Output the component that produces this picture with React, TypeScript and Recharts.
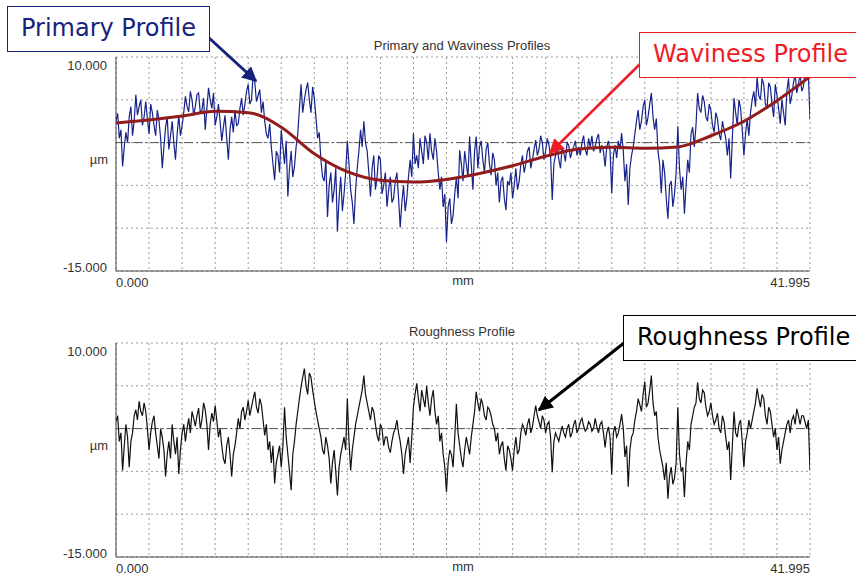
import type { ReactNode } from 'react'
import { LineChart, Line, XAxis, YAxis, CartesianGrid, ReferenceLine } from 'recharts'

// Trace length and grid
const SPAN_MM = 41.995
const X_TICKS = [0, 2, 4, 6, 8, 10, 12, 14, 16, 18, 20, 22, 24, 26, 28, 30, 32, 34, 36, 38, 40, 41.995]
const Y_TICKS = [-15, -10, -5, 0, 5, 10]

// Primary profile, evenly sampled along the trace (µm), one row per 2 mm
const primaryUm = [
  2.5, 3.4, 0.5, 1.5, -2.8, -0.5, 1.2, 0.0, 3.0, 4.2, 0.8, 2.5, 5.6, 3.2, 4.2, 5.0, 2.0, 3.0, 4.8, 2.8,
  1.0, 4.5, 3.5, 2.0, 0.8, 3.8, 2.6, 0.5, -3.0, -0.5, 1.8, 3.0, -0.8, 0.8, 2.5, 0.0, -2.0, 1.0, 3.2, 0.8,
  2.0, 3.5, 5.4, 4.2, 3.6, 6.0, 5.0, 3.2, 4.2, 5.6, 5.8, 3.5, 3.8, 5.2, 1.5, 4.0, 6.4, 5.0, 4.0, 5.8,
  2.0, 3.0, 4.5, 2.5, 0.2, 1.8, 3.2, 0.5, -2.0, 1.5, 3.0, 1.2, 3.8, 2.0, 2.2, 4.0, 5.2, 3.2, 4.5, 6.0,
  6.8, 4.5, 5.0, 8.0, 7.0, 4.8, 5.5, 6.2, 3.5, 4.8, 2.5, 1.0, 0.5, 2.2, -0.5, -2.5, -4.4, -1.0, -1.5, -3.5,
  1.5, -0.5, -2.5, 0.2, -6.3, -3.0, -1.0, -4.0, -2.8, -0.5, 1.0, 4.0, 6.8, 3.5, 5.0, 6.2, 7.0, 5.0, 3.5, 6.5,
  5.2, 3.0, 0.5, 1.2, -2.0, -4.0, -4.5, -2.0, -8.7, -5.0, -3.5, -7.0, -5.5, -3.0, -10.4, -6.5, -4.0, -8.0, -6.0, -3.5,
  0.2, -2.5, -5.5, -7.0, -9.5, -5.5, -3.0, -1.0, 1.5, -0.5, 2.5, 0.0, -1.0, -3.5, -6.3, -3.0, -1.5, -5.5, -4.0, -1.5,
  -2.0, -6.0, -5.0, -3.5, -7.5, -5.5, -4.0, -7.0, -6.5, -4.5, -3.5, -6.5, -9.9, -7.0, -5.0, -8.0, -6.5, -4.0, -2.0, -4.0,
  1.1, -2.5, -1.5, -3.0, 0.5, -1.0, -2.5, 0.8, 0.0, -2.0, 1.1, -1.0, -2.0, 0.5, -1.0, -3.5, -5.5, -4.0, -7.5, -6.0,
  -11.6, -7.5, -6.5, -9.5, -8.5, -6.0, -4.0, -6.5, -0.9, -2.5, -4.5, -1.0, -2.5, -4.0, 0.7, -2.5, -5.5, -1.0, 0.7, -3.0,
  -0.5, 0.2, -2.0, -3.5, -0.8, 0.0, -2.5, -3.8, -1.2, -2.0, -5.0, -3.5, -7.0, -4.5, -4.0, -6.5, -7.9, -4.5, -5.0, -3.5,
  -6.5, -5.0, -3.0, -5.5, -4.5, -2.5, -1.5, -3.5, -2.5, -1.0, -0.5, -3.0, -2.0, -0.8, 0.3, -1.5, -0.8, 0.8, 0.0, -2.0,
  -1.0, 0.5, -0.3, -1.5, -6.7, -2.5, -1.5, -0.5, -2.0, -3.0, -0.5, -1.2, -2.2, 0.0, -0.3, -1.8, -1.0, -0.5, 0.2, -1.5,
  -0.5, -1.5, 0.0, 0.8, -0.8, -1.5, 0.5, -0.5, 0.8, -1.0, -0.5, 0.5, 1.0, -1.2, -0.3, -1.0, -2.8, -0.5, 0.2, -1.0,
  -5.9, -1.5, -0.3, -1.8, 0.2, -0.8, 1.1, -1.0, -4.5, -2.5, -7.3, -3.0, -1.5, -0.5, 1.0, 2.5, 3.8, 1.5, 2.5, 4.2,
  5.0, 2.0, 3.0, 4.5, 5.8, 3.0, 1.5, 2.8, -1.0, -2.5, -5.9, -2.0, -3.5, -6.5, -8.9, -5.0, -4.5, -7.5, -6.0, -3.5,
  1.9, -3.0, -5.5, -4.0, -8.3, -5.0, -2.0, -3.5, 1.0, 1.8, -0.5, 2.0, 5.8, 4.0, 3.5, 5.5, 4.8, 3.0, 2.5, 4.5,
  3.8, 2.0, 1.2, 3.5, 2.8, 1.0, 0.3, 2.5, 1.5, 0.5, -1.5, 0.5, -4.2, 0.5, 5.2, 3.5, 2.0, 5.0, 4.0, 1.5,
  -1.5, 1.0, 2.8, 0.8, 3.5, 5.0, 6.0, 4.2, 7.7, 5.5, 5.0, 7.5, 6.8, 4.5, 4.0, 7.0, 6.5, 4.5, 3.0, 6.8,
  5.5, 4.0, 2.2, 5.0, 3.5, 2.0, 6.0, 7.5, 4.5, 5.5, 7.0, 8.0, 5.8, 6.8, 8.1, 6.0, 6.5, 8.3, 7.5, 8.0, 2.7,
]

// Roughness profile on the same sampling (µm)
const roughnessUm = [
  0.8, 1.5, -1.5, -0.5, -4.9, -2.0, 0.5, -1.0, -4.5, -1.5, -0.5, 1.5, 2.2, 1.0, 3.2, 2.0, 1.5, 3.0, 2.0, 0.0,
  -2.5, -0.5, 0.8, 1.5, -0.5, -2.0, -3.5, 0.0, -1.0, -2.5, -5.6, -3.0, -1.5, -3.5, 0.5, -1.5, -3.0, -1.0, -5.3, -2.5,
  -0.5, 0.5, -1.5, 0.0, 1.2, -0.5, 2.0, 1.2, 0.3, 1.5, 2.4, 0.0, 1.0, 3.0, 2.2, 0.5, -2.5, 0.5, 1.8, 0.8,
  2.7, 1.0, -1.0, 0.0, -2.0, -3.5, -4.1, -2.0, -1.0, -3.0, -5.6, -3.0, -2.0, -0.5, 1.2, 0.0, 2.0, 2.5, 1.0, 2.0,
  3.3, 1.5, 2.5, 3.5, 4.3, 2.5, 1.8, 3.5, 2.8, 1.0, -0.8, 0.5, -2.5, -1.5, -4.0, -2.0, -6.4, -4.0, -3.0, -2.0,
  -4.5, -2.0, 2.5, -1.0, -3.0, -5.0, -7.2, -3.0, -1.5, 0.5, 2.0, 3.5, 4.9, 6.0, 7.0, 5.0, 4.0, 6.5, 6.0, 4.5,
  3.2, 2.0, 1.0, 0.0, -1.0, -2.5, -3.0, -1.0, -2.0, -3.5, -6.4, -4.0, -2.5, -5.0, -7.8, -4.5, -3.0, -2.0, -1.0, -2.5,
  3.5, -1.5, -4.9, -2.5, -1.0, 0.5, 1.5, 2.5, 3.5, 4.5, 6.2, 4.0, 3.0, 2.0, 1.0, 2.5, 2.0, 0.5, -0.8, -1.5,
  0.5, 0.0, -2.0, -1.0, -1.0, -2.2, -2.8, -1.5, -0.5, 0.0, 1.0, -0.5, -1.5, -3.0, -5.3, -3.0, -2.0, -1.0, -4.0, -1.0,
  2.5, 4.0, 5.3, 3.5, 2.0, 4.5, 3.5, 2.5, 5.0, 3.0, 1.5, 3.5, 4.5, 2.0, 0.5, 1.5, -1.5, -0.5, -3.0, -4.5,
  -7.4, -4.0, -2.5, -3.0, -4.5, -1.0, 2.9, -0.5, -2.0, -3.5, -4.5, -2.5, -1.0, -2.0, -3.0, -1.0, 0.5, 2.0, 4.3, 3.0,
  2.0, 3.5, 2.8, 1.5, 1.0, 2.5, 2.2, 1.5, 0.5, 0.0, -1.5, -0.5, -3.0, -2.0, -1.5, -3.5, -4.9, -2.0, -2.5, -3.5,
  -4.9, -2.5, -1.0, -3.0, -2.5, -0.5, 0.5, 0.0, -0.8, 0.5, 1.2, -0.5, 0.2, 1.5, 2.7, 1.5, 0.8, 0.0, 1.5, 1.0,
  -0.5, 0.5, 0.8, -1.0, -5.1, -1.5, -0.5, -1.0, -1.5, -0.5, 0.3, -0.5, -1.0, 0.0, 0.5, -1.0, -0.5, 0.5, 1.0, -0.5,
  0.0, 0.8, 1.2, 0.3, -0.3, 0.0, 0.8, 0.5, -0.3, 0.0, 1.2, 0.2, -0.5, 0.5, 0.8, -0.5, -2.2, -0.5, 0.2, -1.0,
  -5.4, -0.5, 0.3, -1.0, -0.5, 0.5, 1.7, 0.0, -3.3, -2.0, -6.8, -2.5, -1.0, -0.5, 1.0, 2.0, 3.5, 2.8, 2.0, 4.0,
  5.5, 2.5, 3.0, 4.5, 6.2, 3.0, 1.5, 2.0, -1.0, -2.5, -3.5, -4.5, -6.0, -4.0, -8.2, -5.5, -4.5, -6.5, -5.8, -4.0,
  2.5, -3.0, -5.0, -4.5, -8.0, -4.0, -1.5, -2.5, 0.5, 1.5, 2.5, 3.0, 5.4, 3.5, 3.0, 4.5, 4.2, 2.5, 1.5, 2.0,
  3.0, 1.5, 0.5, 1.0, 1.8, 0.0, -0.5, 1.5, 0.8, -1.0, -2.5, -1.5, -6.0, -2.0, 2.0, -0.5, -1.0, 0.5, 1.0, -1.5,
  -4.5, -1.5, -0.5, 1.0, 0.0, 1.0, 2.0, 3.0, 4.7, 3.5, 2.5, 4.0, 3.5, 1.5, 0.5, 2.5, 2.0, 0.5, -1.0, 0.0,
  -2.5, -1.0, -4.1, -2.5, -1.5, -0.5, 0.5, 1.0, -0.5, 1.0, 1.5, 0.5, 2.3, 1.5, 0.5, 1.5, 1.5, 0.8, 0.0, 1.0, -4.9,
]

// Waviness (long-wave filtered) profile
const wavinessMm = [0, 2, 4, 6, 8, 10, 12, 14, 16, 18, 20, 22, 24, 26, 28, 30, 32, 34, 36, 38, 40, 41.995]
const wavinessUm = [2.3, 2.65, 3.1, 3.65, 3.5, 1.8, -1.3, -3.4, -4.4, -4.6, -4.3, -3.6, -2.7, -1.6, -0.75, -0.55, -0.65, -0.5, 0.8, 2.5, 4.9, 7.7]

const sampled = (values: number[]) =>
  values.map((um, i) => ({ mm: (i * SPAN_MM) / (values.length - 1), um }))

const primaryData = sampled(primaryUm)
const roughnessData = sampled(roughnessUm)
const wavinessData = wavinessMm.map((mm, i) => ({ mm, um: wavinessUm[i] }))

const FONT = '"Liberation Sans", Arial, sans-serif'
const AXIS_TEXT = '#333'

const XTick = ({ x, y, payload }: any) => {
  const v = payload.value
  if (v !== 0 && v !== SPAN_MM) return <g />
  return (
    <text x={x} y={y} dy="0.71em" textAnchor={v === 0 ? 'start' : 'end'} fontSize={13} fontFamily={FONT} fill={AXIS_TEXT}>
      {v.toFixed(3)}
    </text>
  )
}

const YTick = ({ x, y, payload }: any) => {
  const v = payload.value
  if (v !== 10 && v !== -15) return <g />
  return (
    <text x={x} y={v === 10 ? y + 8 : y - 4} dy="0.35em" textAnchor="end" fontSize={13} fontFamily={FONT} fill={AXIS_TEXT}>
      {v.toFixed(3)}
    </text>
  )
}

function ProfilePanel({ top, title, children }: { top: number; title: string; children: ReactNode }) {
  const label = { position: 'absolute' as const, left: 0, fontFamily: FONT, fontSize: 13, lineHeight: '12px', color: AXIS_TEXT }
  return (
    <div style={{ position: 'absolute', left: 0, top, width: 856, height: 300 }}>
      <div style={{ ...label, width: 924, top: 40, textAlign: 'center' }}>{title}</div>
      <div style={{ ...label, width: 108, top: 154, textAlign: 'right' }}>µm</div>
      <div style={{ ...label, width: 926, top: 275, textAlign: 'center' }}>mm</div>
      <LineChart width={856} height={300} margin={{ top: 57, right: 46, bottom: 0, left: 0 }}>
        <CartesianGrid stroke="#9a9a9a" strokeDasharray="2 3" />
        <XAxis
          type="number"
          dataKey="mm"
          domain={[0, SPAN_MM]}
          ticks={X_TICKS}
          interval={0}
          allowDataOverflow
          tick={XTick}
          tickSize={0}
          tickMargin={7}
          height={29}
          axisLine={{ stroke: '#444' }}
        />
        <XAxis xAxisId="top" orientation="top" type="number" domain={[0, SPAN_MM]} height={0} tick={false} tickLine={false} axisLine={{ stroke: '#777' }} />
        <YAxis
          type="number"
          domain={[-15, 10]}
          ticks={Y_TICKS}
          interval={0}
          allowDataOverflow
          tick={YTick}
          tickSize={0}
          tickMargin={9}
          width={116}
          axisLine={{ stroke: '#444' }}
        />
        <YAxis yAxisId="right" orientation="right" type="number" domain={[-15, 10]} width={0} tick={false} tickLine={false} axisLine={{ stroke: '#777' }} />
        <ReferenceLine y={0} stroke="#555" strokeDasharray="9 3 2 3" />
        {children}
      </LineChart>
    </div>
  )
}

function Callout({ left, top, width, height, color, text }: { left: number; top: number; width: number; height: number; color: string; text: string }) {
  return (
    <div
      style={{
        position: 'absolute',
        left,
        top,
        width,
        height,
        boxSizing: 'border-box',
        border: `1.5px solid ${color}`,
        background: '#fff',
        color,
        fontFamily: '"DejaVu Sans", Tahoma, sans-serif',
        fontSize: 24,
        lineHeight: `${height - 3}px`,
        paddingLeft: 13,
        whiteSpace: 'nowrap',
      }}
    >
      {text}
    </div>
  )
}

export default function App() {
  return (
    <div style={{ position: 'absolute', left: 0, top: 0, width: 856, height: 575, background: '#fff', overflow: 'hidden' }}>
      <ProfilePanel top={0} title="Primary and Waviness Profiles">
        <Line data={primaryData} dataKey="um" type="linear" stroke="#17238a" strokeWidth={1.2} dot={false} isAnimationActive={false} />
        <Line data={wavinessData} dataKey="um" type="monotone" stroke="#921c1c" strokeWidth={3} dot={false} isAnimationActive={false} />
      </ProfilePanel>
      <ProfilePanel top={286} title="Roughness Profile">
        <Line data={roughnessData} dataKey="um" type="linear" stroke="#111" strokeWidth={1.2} dot={false} isAnimationActive={false} />
      </ProfilePanel>

      {/* callout arrows */}
      <svg width={856} height={575} style={{ position: 'absolute', left: 0, top: 0, pointerEvents: 'none' }}>
        <defs>
          <marker id="headNavy" viewBox="0 0 10 10" refX="9" refY="5" markerWidth="5" markerHeight="5" orient="auto">
            <path d="M0,0 L10,5 L0,10 z" fill="#17237a" />
          </marker>
          <marker id="headRed" viewBox="0 0 10 10" refX="9" refY="5" markerWidth="6" markerHeight="6" orient="auto">
            <path d="M0,0 L10,5 L0,10 z" fill="#ee1c24" />
          </marker>
          <marker id="headBlack" viewBox="0 0 10 10" refX="9" refY="5" markerWidth="5" markerHeight="5" orient="auto">
            <path d="M0,0 L10,5 L0,10 z" fill="#000" />
          </marker>
        </defs>
        <line x1={208} y1={37} x2={256} y2={81} stroke="#17237a" strokeWidth={3} markerEnd="url(#headNavy)" />
        <line x1={640} y1={64} x2={550} y2={153} stroke="#ee1c24" strokeWidth={2.5} markerEnd="url(#headRed)" />
        <line x1={624} y1={343} x2={539} y2={410} stroke="#000" strokeWidth={3} markerEnd="url(#headBlack)" />
      </svg>

      <Callout left={7} top={6} width={203} height={46} color="#17237a" text="Primary Profile" />
      <Callout left={639} top={32} width={220} height={46} color="#ee1c24" text="Waviness Profile" />
      <Callout left={623} top={315} width={236} height={46} color="#000" text="Roughness Profile" />
    </div>
  )
}
